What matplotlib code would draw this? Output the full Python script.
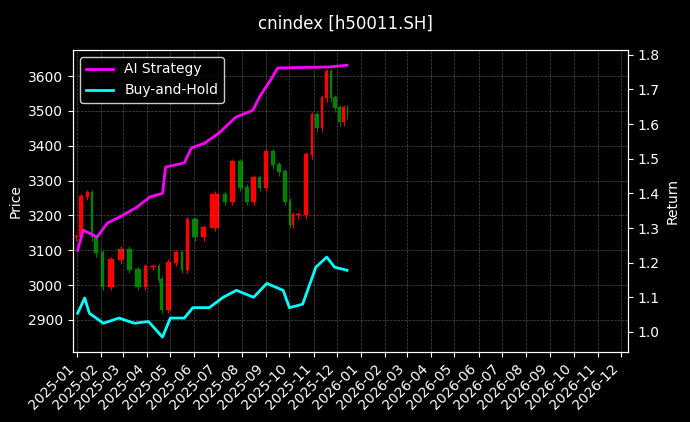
import matplotlib
matplotlib.use("Agg")
import matplotlib.pyplot as plt
import matplotlib.dates as mdates
import pandas as pd

price_dates = ["2025-01-02","2025-01-11","2025-01-18","2025-01-22","2025-01-30","2025-02-07","2025-02-20",
               "2025-03-05","2025-03-14","2025-03-27","2025-04-02","2025-04-15","2025-04-17","2025-04-23",
               "2025-05-04","2025-05-13","2025-05-19","2025-05-27","2025-06-08","2025-06-18","2025-07-06",
               "2025-07-14","2025-07-25","2025-08-04","2025-08-11","2025-08-21","2025-08-27","2025-09-05",
               "2025-09-14","2025-09-22","2025-09-29","2025-10-04","2025-10-07","2025-10-18","2025-10-27",
               "2025-11-02","2025-11-09","2025-11-15","2025-11-21","2025-11-25","2025-12-02","2025-12-07",
               "2025-12-13","2025-12-16"]
closes = [3138,3253,3264,3138,3092,2995,3072,3101,3044,2995,3052,3052,3015,2929,3064,3092,3044,3187,3138,
          3164,3259,3239,3353,3279,3239,3307,3279,3382,3344,3324,3239,3173,3201,3201,3373,3488,3451,3537,
          3611,3537,3508,3468,3508,3488]

ai_dates = ["2025-01-02","2025-01-09","2025-01-27","2025-02-09","2025-02-25","2025-03-19","2025-04-05",
            "2025-04-21","2025-04-25","2025-05-19","2025-05-28","2025-06-14","2025-07-03","2025-07-24",
            "2025-08-15","2025-08-24","2025-09-07","2025-09-16","2025-11-21","2025-12-14"]
ai_ret = [1.236,1.294,1.274,1.314,1.332,1.36,1.39,1.40,1.476,1.488,1.531,1.545,1.575,1.62,1.64,1.68,
          1.728,1.762,1.765,1.77]

bh_dates = ["2025-01-02","2025-01-11","2025-01-17","2025-02-04","2025-02-24","2025-03-16","2025-04-03",
            "2025-04-21","2025-05-01","2025-05-19","2025-05-30","2025-06-20","2025-07-08","2025-07-25",
            "2025-08-16","2025-09-02","2025-09-23","2025-10-01","2025-10-18","2025-11-04","2025-11-18",
            "2025-11-28","2025-12-14"]
bh_ret = [1.054,1.098,1.054,1.025,1.04,1.025,1.03,0.985,1.04,1.04,1.07,1.07,1.10,1.12,1.10,1.14,1.12,
          1.07,1.08,1.187,1.216,1.187,1.178]

x = mdates.date2num(pd.to_datetime(price_dates))

fig = plt.figure(figsize=(6.9, 4.22), dpi=100, facecolor="black")
ax = fig.add_axes([73/690, 70/422, 555/690, 302/422])
ax.set_facecolor("black")
ax2 = ax.twinx()

opens = [closes[0]] + closes[:-1]
for i in range(len(closes)):
    gap = (x[i] - x[i-1]) if i > 0 else 4
    o, c = opens[i], closes[i]
    col = "red" if c >= o else "green"
    ax.bar(x[i] - gap/2, abs(c - o) + 3, bottom=min(o, c), width=gap*0.6, color=col, edgecolor=col, lw=0.3)
    ax.vlines(x[i] - gap/2, min(o, c) - 10, max(o, c) + 10, color=col, lw=0.7)

ax2.plot(pd.to_datetime(ai_dates), ai_ret, color="magenta", lw=2, label="AI Strategy")
ax2.plot(pd.to_datetime(bh_dates), bh_ret, color="cyan", lw=2, label="Buy-and-Hold")

ax.set_ylim(2808, 3675)
ax2.set_ylim(0.942, 1.814)
ax.set_xlim(mdates.date2num(pd.Timestamp("2024-12-27")), mdates.date2num(pd.Timestamp("2026-12-10")))
ax.xaxis.set_major_locator(mdates.MonthLocator())
ax.xaxis.set_major_formatter(mdates.DateFormatter("%Y-%m"))
for lab in ax.get_xticklabels():
    lab.set_rotation(45); lab.set_ha("right")
ax.grid(True, color="gray", ls="--", lw=0.5, alpha=0.6)
for a in (ax, ax2):
    a.tick_params(colors="white", labelsize=10)
    for s in a.spines.values():
        s.set_color("white")
ax.set_ylabel("Price", color="white")
ax2.set_ylabel("Return", color="white")
ax2.legend(loc="upper left", facecolor="black", edgecolor="white", labelcolor="white", fontsize=10)
fig.suptitle("cnindex [h50011.SH]", color="white", fontsize=12, y=0.965)
fig.savefig("out.png", dpi=100, facecolor="black")
